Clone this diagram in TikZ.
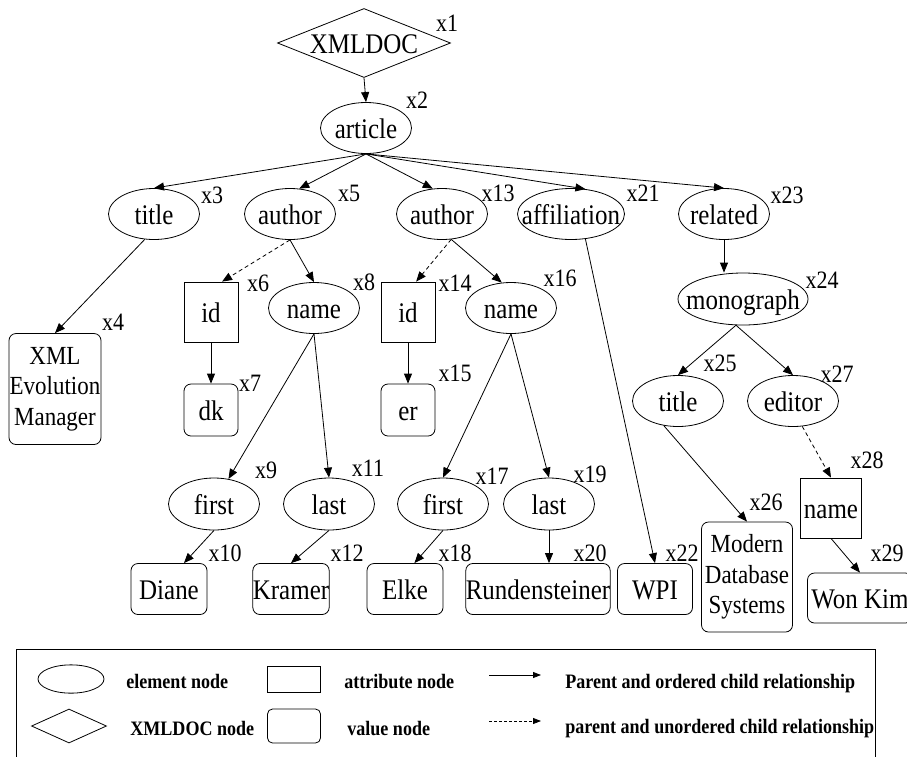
\documentclass[tikz,border=0pt]{standalone}
\usepackage{fontspec}
\setmainfont{Liberation Serif}[FakeStretch=0.88]
\usetikzlibrary{shapes.geometric,arrows.meta}
\newcommand{\nodefont}{\fontsize{28.4}{30}\selectfont}
\newcommand{\valfont}{\fontsize{26.1}{30.5}\selectfont}
\newcommand{\tagfont}{\fontsize{25}{26}\selectfont}
\newcommand{\legfont}{\fontsize{20.5}{22}\selectfont\bfseries}
\newcommand{\nb}[1]{\makebox[0pt]{#1}}

\begin{document}
\begin{tikzpicture}[x=1pt,y=-1pt,line width=0.8pt,font=\nodefont,
		>={Triangle[length=10pt,width=8pt]},
		elem/.style={ellipse,draw,inner sep=0pt,minimum width=91pt,minimum height=51pt,text height=20pt,text depth=0pt},
		attr/.style={rectangle,draw,inner sep=0pt,minimum width=54pt,minimum height=60pt,text height=20pt,text depth=0pt},
		doc/.style={diamond,draw,inner sep=0pt,minimum width=173pt,minimum height=69pt,text height=20pt,text depth=0pt},
		box/.style={rectangle,draw,rounded corners=7pt,inner sep=0pt},
		val/.style={box,minimum width=76pt,minimum height=51pt,text height=20pt,text depth=0pt},
		multi/.style={box,align=center,font=\valfont},
		tag/.style={inner sep=0pt,font=\tagfont},
		legtext/.style={anchor=base west,inner sep=0pt,font=\legfont},
		unord/.style={->,dash pattern=on 4pt off 3pt}]
	\useasboundingbox (0,0) rectangle (907,756);

	\node[doc] (doc) at (364,43) {\nb{XMLDOC}};
	\node[elem] (article) at (366,128) {\nb{article}};
	\node[elem] (title) at (154,214) {\nb{title}};
	\node[elem] (author1) at (290,214) {\nb{author}};
	\node[elem] (author2) at (442,214) {\nb{author}};
	\node[elem,minimum width=107pt] (affil) at (571,214) {\nb{affiliation}};
	\node[elem] (related) at (724,214) {\nb{related}};

	\node[multi,minimum width=92pt,minimum height=111pt] (evo) at (55,389) {XML\\Evolution\\Manager};
	\node[attr] (id1) at (211,312) {id};
	\node[elem] (name1) at (314,308) {\nb{name}};
	\node[attr] (id2) at (408,312) {id};
	\node[elem] (name2) at (511,308) {\nb{name}};
	\node[elem,minimum width=130pt,minimum height=52pt] (mono) at (743,299) {\nb{monograph}};

	\node[val,minimum width=54pt,minimum height=52pt] (dk) at (211,410) {dk};
	\node[val,minimum width=54pt,minimum height=52pt] (er) at (408,410) {er};
	\node[elem] (mtitle) at (678,401) {\nb{title}};
	\node[elem] (editor) at (793,401) {\nb{editor}};

	\node[elem,minimum height=52pt] (first1) at (214,504) {\nb{first}};
	\node[elem,minimum height=52pt] (last1) at (329,504) {\nb{last}};
	\node[elem,minimum height=52pt] (first2) at (443,504) {\nb{first}};
	\node[elem,minimum height=52pt] (last2) at (549,504) {\nb{last}};
	\node[attr,minimum width=61pt] (ename) at (831,508) {name};
	\node[multi,minimum width=91pt,minimum height=110pt] (mds) at (747,577) {Modern\\Database\\Systems};

	\node[val] (diane) at (169,589) {Diane};
	\node[val] (kramer) at (291,589) {Kramer};
	\node[val] (elke) at (405,589) {Elke};
	\node[val,minimum width=144pt] (rund) at (538,589) {Rundensteiner};
	\node[val,minimum width=75pt] (wpi) at (655,589) {WPI};
	\node[val,minimum width=105pt,minimum height=50pt] (won) at (860,598) {Won Kim};

	\draw[->] (doc.south) -- (article.north);
	\draw[->] (article.south) -- (title.north);
	\draw[->] (article.south) -- (author1.70);
	\draw[->] (article.south) -- (author2.110);
	\draw[->] (article.south) -- (affil.60);
	\draw[->] (article.south) -- (related.north);
	\draw[->] (title.250) -- (evo.north);
	\draw[unord] (author1.south) -- (id1.70);
	\draw[->] (author1.south) -- (name1.north);
	\draw[unord] (author2.290) -- (id2.75);
	\draw[->] (author2.290) -- (name2.110);
	\draw[->] (affil.300) -- (wpi.north);
	\draw[->] (related.south) -- (related.south |- mono.north);
	\draw[->] (mono.255) -- (mtitle.north);
	\draw[->] (mono.255) -- (editor.north);
	\draw[->] (id1) -- (dk);
	\draw[->] (id2) -- (er);
	\draw[->] (name1.south) -- (first1.60);
	\draw[->] (name1.south) -- (last1.north);
	\draw[->] (name2.south) -- (first2.north);
	\draw[->] (name2.south) -- (last2.north);
	\draw[->] (first1.south) -- (diane.60);
	\draw[->] (last1.south) -- (kramer.north);
	\draw[->] (first2.south) -- (elke.70);
	\draw[->] (last2.south) -- (last2.south |- rund.north);
	\draw[->] (mtitle.240) -- (mds.north);
	\draw[unord] (editor.290) -- (ename.north);
	\draw[->] (ename.south) -- (won.north);

	\node[tag] (t1) at (447,23) {x1};
	\node[tag] (t2) at (417,100) {x2};
	\node[tag] (t3) at (212,195) {x3};
	\node[tag] (t4) at (113,322) {x4};
	\node[tag] (t5) at (349,193) {x5};
	\node[tag] (t6) at (258,283) {x6};
	\node[tag] (t7) at (250,383) {x7};
	\node[tag] (t8) at (364,282) {x8};
	\node[tag] (t9) at (266,470) {x9};
	\node[tag] (t10) at (225,553) {x10};
	\node[tag] (t11) at (368,468) {x11};
	\node[tag] (t12) at (347,553) {x12};
	\node[tag] (t13) at (498,193) {x13};
	\node[tag] (t14) at (455,283) {x14};
	\node[tag] (t15) at (455,373) {x15};
	\node[tag] (t16) at (560,278) {x16};
	\node[tag] (t17) at (492,476) {x17};
	\node[tag] (t18) at (455,553) {x18};
	\node[tag] (t19) at (590,474) {x19};
	\node[tag] (t20) at (590,553) {x20};
	\node[tag] (t21) at (643,193) {x21};
	\node[tag] (t22) at (682,553) {x22};
	\node[tag] (t23) at (787,195) {x23};
	\node[tag] (t24) at (822,280) {x24};
	\node[tag] (t25) at (720,363) {x25};
	\node[tag] (t26) at (766,502) {x26};
	\node[tag] (t27) at (837,374) {x27};
	\node[tag] (t28) at (867,460) {x28};
	\node[tag] (t29) at (887,553) {x29};

	\draw (16,649) rectangle (875,758);
	\node[elem,minimum width=66pt,minimum height=25pt] (kelem) at (71,679) {};
	\node[legtext] (kelemt) at (126,688) {element node};
	\node[attr,minimum width=53pt,minimum height=26pt] (kattr) at (294,679) {};
	\node[legtext] (kattrt) at (344,688) {attribute node};
	\node[doc,minimum width=75pt,minimum height=34pt] (kdoc) at (69,726) {};
	\node[legtext] (kdoct) at (130,735) {XMLDOC node};
	\node[box,rounded corners=5pt,minimum width=53pt,minimum height=34pt] (kval) at (294,726) {};
	\node[legtext] (kvalt) at (347,735) {value node};
	\coordinate (ords) at (489,675);
	\coordinate (orde) at (541,675);
	\draw[-{Triangle[length=8pt,width=6pt]}] (ords) -- (orde);
	\node[legtext] (ordt) at (565,688) {Parent and ordered child relationship};
	\coordinate (unos) at (489,721);
	\coordinate (unoe) at (541,721);
	\draw[-{Triangle[length=8pt,width=6pt]},dash pattern=on 3pt off 2pt] (unos) -- (unoe);
	\node[legtext] (unot) at (565,733) {parent and unordered child relationship};

\end{tikzpicture}
\end{document}
